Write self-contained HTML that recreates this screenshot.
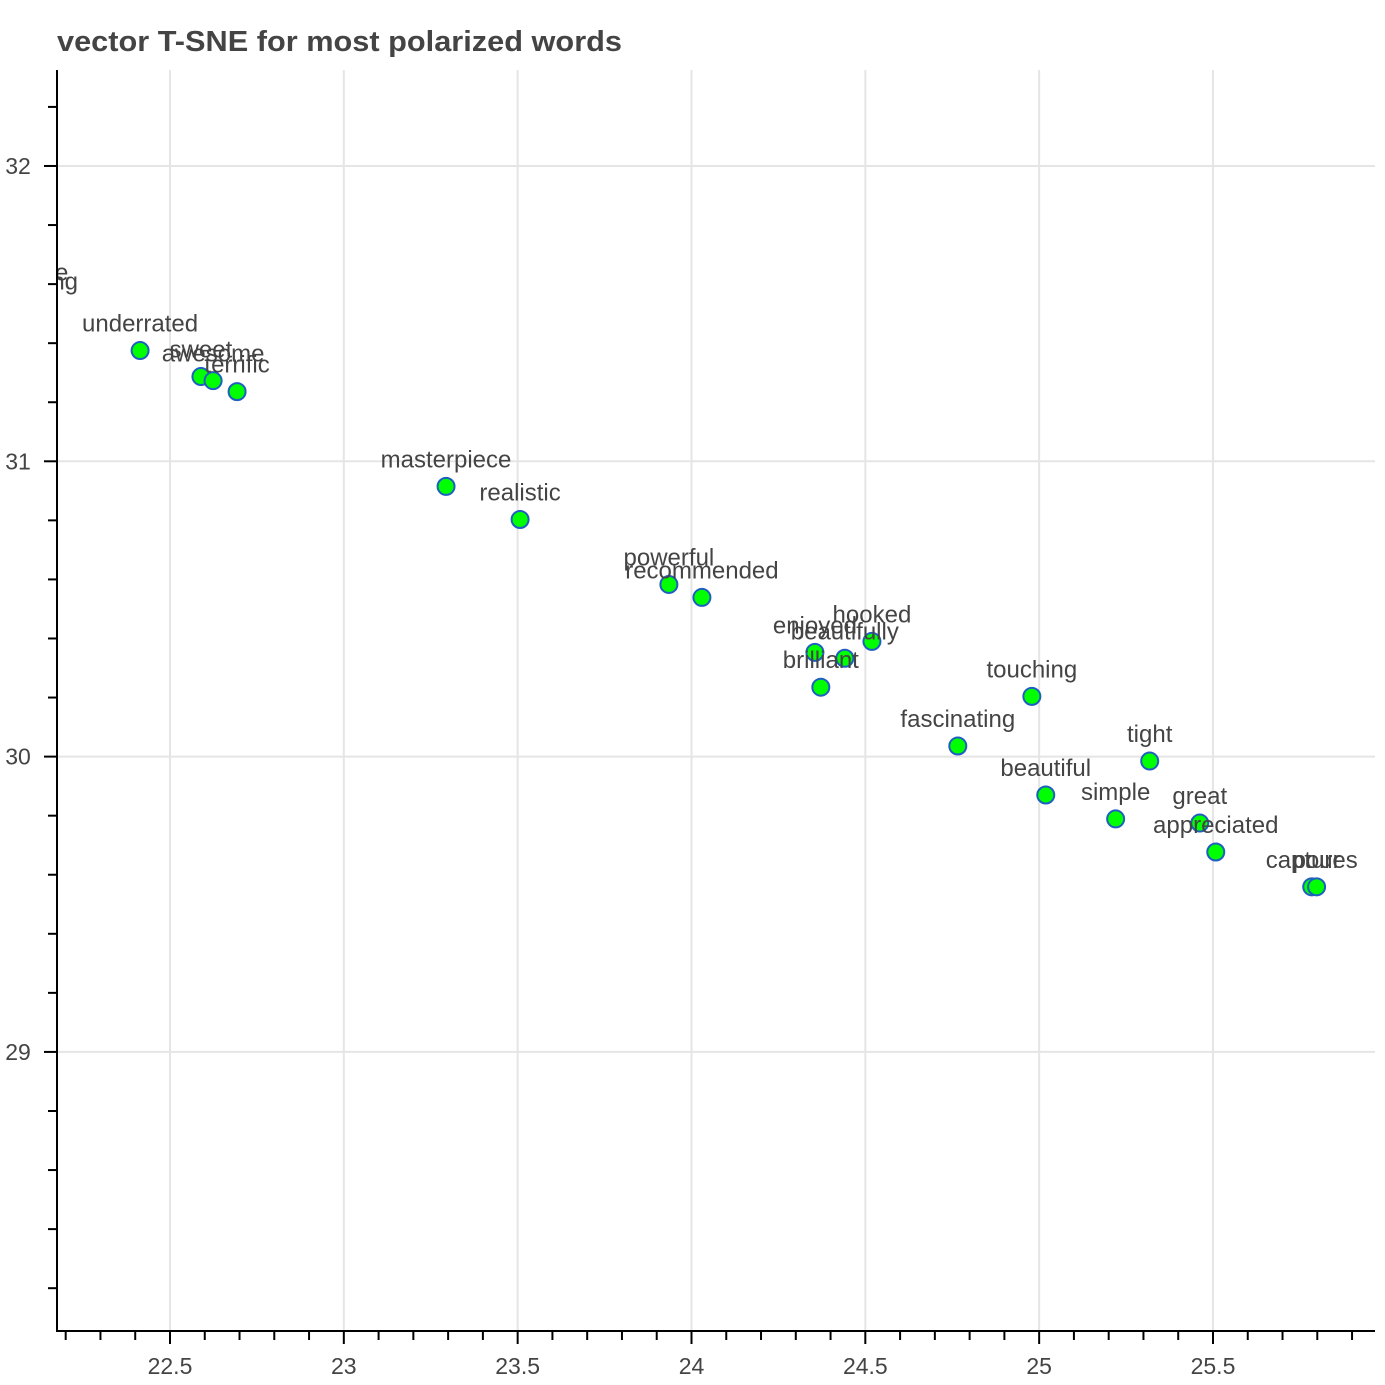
<!DOCTYPE html>
<html><head><meta charset="utf-8"><style>
html,body{margin:0;padding:0;background:#fff;}
svg{display:block;font-family:"Liberation Sans",sans-serif;}
</style></head><body>
<svg id="chart" width="1385" height="1385" xmlns="http://www.w3.org/2000/svg">
<text x="57" y="51" font-size="29" font-weight="bold" fill="#444" textLength="565" lengthAdjust="spacingAndGlyphs">vector T-SNE for most polarized words</text>
<defs><clipPath id="plotclip"><rect x="57" y="70" width="1318" height="1261"/></clipPath></defs>
<g id="grid"></g>
<g id="marks" clip-path="url(#plotclip)"></g>
<g id="axes"></g>
</svg>
<script>
const words = ["incredible","amazing","underrated","sweet","awesome","terrific","masterpiece","realistic","powerful","recommended","enjoyed","beautifully","hooked","brilliant","touching","fascinating","beautiful","tight","simple","great","appreciated","captures","pour"];
const xVals = [22.060,22.105,22.414,22.589,22.624,22.693,23.294,23.507,23.935,24.030,24.355,24.441,24.519,24.372,24.979,24.766,25.019,25.318,25.220,25.462,25.508,25.784,25.798];
const yVals = [31.548,31.518,31.375,31.287,31.273,31.236,30.915,30.803,30.583,30.539,30.353,30.333,30.390,30.235,30.204,30.036,29.870,29.985,29.789,29.775,29.677,29.559,29.559];
const xTicks = [22.5,23,23.5,24,24.5,25,25.5];
const xTickLabels = ["22.5","23","23.5","24","24.5","25","25.5"];
const yTicks = [29,30,31,32];
const yTickLabels = ["29","30","31","32"];

const L=57,R=1375,T=70,B=1331;
const X0=22.175,X1=25.966,Y0=28.055,Y1=32.325;
const sx=v=>L+(v-X0)/(X1-X0)*(R-L);
const sy=v=>B-(v-Y0)/(Y1-Y0)*(B-T);
const NS="http://www.w3.org/2000/svg";
function mk(tag,attrs,parent){const e=document.createElementNS(NS,tag);for(const k in attrs)e.setAttribute(k,attrs[k]);parent.appendChild(e);return e;}
const grid=document.getElementById('grid'),marks=document.getElementById('marks'),axes=document.getElementById('axes');

xTicks.forEach(v=>{const g=mk('line',{x1:sx(v),x2:sx(v),y1:T,y2:B,stroke:'#e5e5e5','stroke-width':2},grid);

});
yTicks.forEach(v=>{const g=mk('line',{x1:L,x2:R,y1:sy(v),y2:sy(v),stroke:'#e5e5e5','stroke-width':2},grid);

});

words.forEach((w,i)=>{
  const c=mk('circle',{cx:sx(xVals[i]),cy:sy(yVals[i]),r:8.5,fill:'#00ff00',stroke:'#1f5fbf','stroke-width':2},marks);
  
  
});
words.forEach((w,i)=>{
  const t=mk('text',{x:sx(xVals[i]),y:sy(yVals[i])-19,'text-anchor':'middle','font-size':24,fill:'#444'},marks);
  t.textContent=w;
  
  
});

let a=mk('line',{x1:L,x2:L,y1:T,y2:B+1,stroke:'#000','stroke-width':2},axes);


a=mk('line',{x1:L-1,x2:R,y1:B,y2:B,stroke:'#000','stroke-width':2},axes);



for(let k=Math.ceil(X0*10);k<=Math.floor(X1*10);k++){
  const major=k%5===0;const x=sx(k/10);
  const t=mk('line',{x1:x,x2:x,y1:B,y2:B+(major?13:9),stroke:'#000','stroke-width':2},axes);
  
  
}
for(let k=Math.ceil(Y0*5);k<=Math.floor(Y1*5);k++){
  const major=k%5===0;const y=sy(k/5);
  const t=mk('line',{x1:L-(major?13:9),x2:L,y1:y,y2:y,stroke:'#000','stroke-width':2},axes);
  
  
}
xTicks.forEach((v,i)=>{const t=mk('text',{x:sx(v),y:1374,'text-anchor':'middle','font-size':23,fill:'#444'},axes);
t.textContent=xTickLabels[i];

});
yTicks.forEach((v,i)=>{const t=mk('text',{x:18,y:sy(v)+8,'text-anchor':'middle','font-size':23,fill:'#444'},axes);
t.textContent=yTickLabels[i];

});
</script>
</body></html>
